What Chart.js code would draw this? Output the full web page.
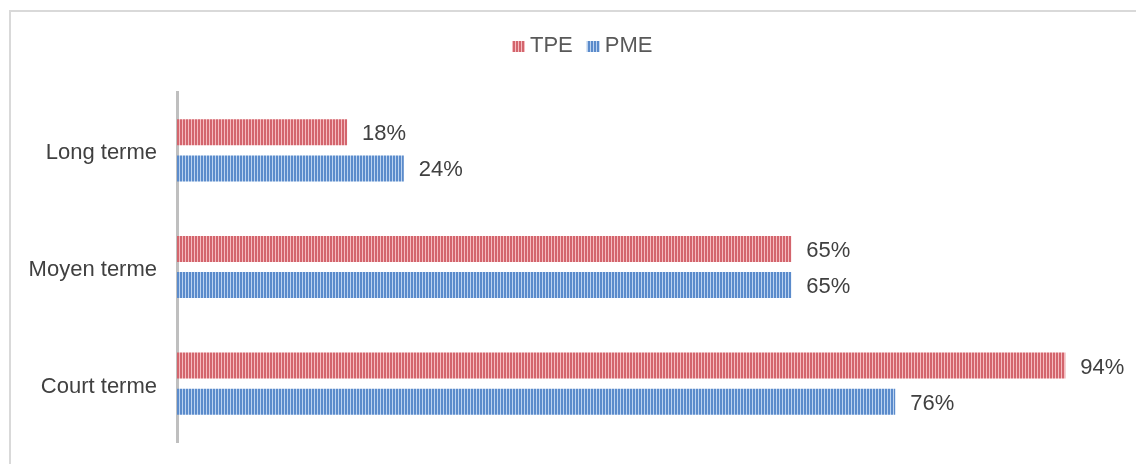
<!DOCTYPE html>
<html>
<head>
<meta charset="utf-8">
<script src="https://cdn.jsdelivr.net/npm/chart.js@4"></script>
<style>
  body { margin: 0; background: #fff; }
  #wrap { position: relative; width: 1136px; height: 464px; }
  #frame { position: absolute; left: 9px; top: 10px; width: 1130px; height: 460px; border: 2px solid #d9d9d9; box-sizing: border-box; }
  canvas { position: absolute; left: 0; top: 0; }
</style>
</head>
<body>
<div id="wrap">
  <div id="frame"></div>
  <canvas id="c" width="1136" height="464"></canvas>
</div>
<script>
// data
const categories = ['Long terme', 'Moyen terme', 'Court terme'];
const seriesNames = ['TPE', 'PME'];
const tpeValues = [18, 65, 94];
const pmeValues = [24, 65, 76];

// striped fill like the original
function stripes(dark, light) {
  const p = document.createElement('canvas');
  p.width = 3; p.height = 4;
  const g = p.getContext('2d');
  g.fillStyle = dark; g.fillRect(0, 0, 3, 4);
  g.fillStyle = light; g.fillRect(2, 0, 1, 4);
  return g.createPattern(p, 'repeat');
}
const ctx = document.getElementById('c').getContext('2d');
const redFill = stripes('#d3656d', '#f5bcc0');
const blueFill = stripes('#5b8bcb', '#bcd3f0');

const FONT = '22px "Liberation Sans", Arial, sans-serif';

// value labels at the end of each bar + legend on top
const extras = {
  id: 'extras',
  afterDatasetsDraw(chart) {
    const c = chart.ctx;
    c.save();
    c.font = FONT;
    c.fillStyle = '#404040';
    c.textBaseline = 'middle';
    chart.data.datasets.forEach((ds, i) => {
      chart.getDatasetMeta(i).data.forEach((bar, j) => {
        c.fillText(ds.data[j] + '%', bar.x + 15, bar.y + 2);
      });
    });

    // legend
    let x = 512;
    const y = 46;
    chart.data.datasets.forEach((ds) => {
      c.fillStyle = ds.backgroundColor;
      c.fillRect(x, y - 5, 13, 11);
      c.fillStyle = '#595959';
      c.fillText(ds.label, x + 18, y);
      x += 18 + c.measureText(ds.label).width + 14;
    });
    c.restore();
  }
};

new Chart(ctx, {
  type: 'bar',
  data: {
    labels: categories,
    datasets: [
      { label: seriesNames[0], data: tpeValues, backgroundColor: redFill, borderWidth: 0 },
      { label: seriesNames[1], data: pmeValues, backgroundColor: blueFill, borderWidth: 0 }
    ]
  },
  options: {
    indexAxis: 'y',
    responsive: false,
    animation: false,
    barPercentage: 0.72,
    categoryPercentage: 0.62,
    layout: { padding: { top: 0, right: 14, bottom: 22, left: 0 } },
    scales: {
      x: {
        position: 'top',
        min: 0, max: 100,
        ticks: { display: false },
        grid: { display: false },
        border: { display: false },
        afterFit: s => { s.height = 92; s.paddingLeft = 0; s.paddingRight = 0; }
      },
      y: {
        grid: { display: false, drawTicks: false },
        border: { color: '#bfbfbf', width: 3 },
        ticks: {
          padding: 20,
          labelOffset: 3,
          color: '#404040',
          font: { family: '"Liberation Sans", Arial, sans-serif', size: 22 }
        },
        afterFit: s => { s.width = 177; s.paddingTop = 0; s.paddingBottom = 0; }
      }
    },
    plugins: {
      legend: { display: false },
      tooltip: { enabled: false }
    }
  },
  plugins: [extras]
});
</script>
</body>
</html>
